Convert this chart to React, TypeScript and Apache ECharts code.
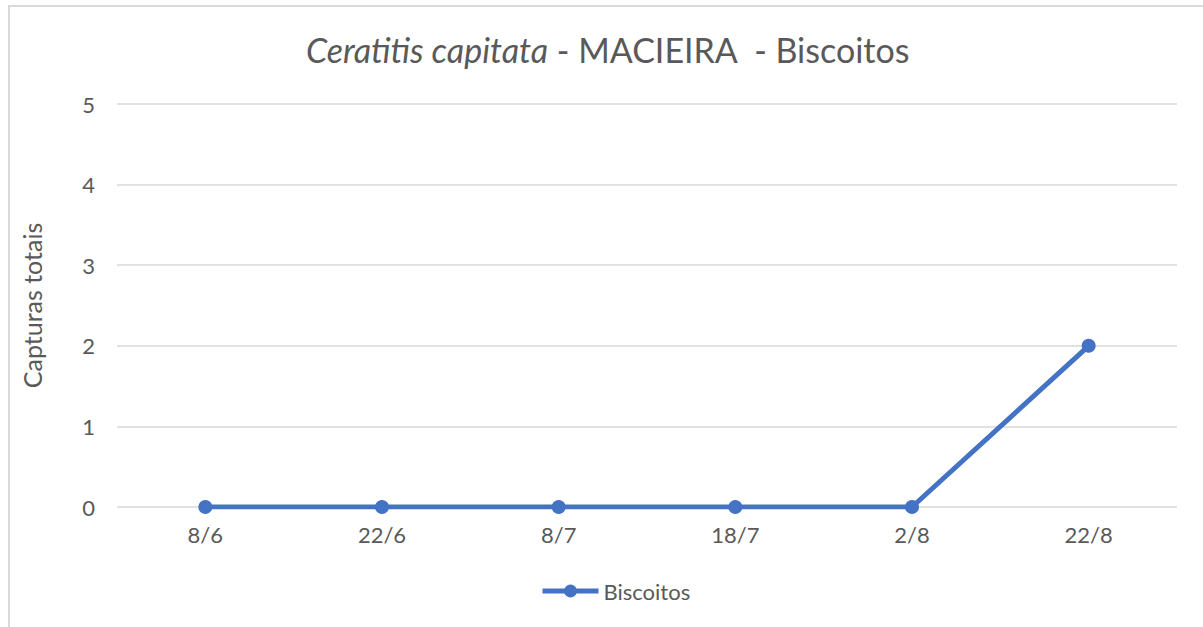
import React, { useEffect, useRef } from "react";
import * as echarts from "echarts";

const categories = ["8/6", "22/6", "8/7", "18/7", "2/8", "22/8"];
const biscoitos = [0, 0, 0, 0, 0, 2];
const seriesName = "Biscoitos";
const yAxisName = "Capturas totais";

export default function App() {
  const ref = useRef<HTMLDivElement>(null);
  useEffect(() => {
    const chart = echarts.init(ref.current!, null, { renderer: "svg" });
    const font = "Lato, Open Sans, sans-serif";
    chart.setOption({
      animation: false,
      backgroundColor: "#ffffff",
      graphic: [
        {
          type: "rect",
          shape: { x: 9, y: 6, width: 1400, height: 800 },
          style: { fill: "none", stroke: "#d9d9d9", lineWidth: 2 },
          silent: true,
        },
      ],
      title: {
        text: "{i|Ceratitis capitata} - MACIEIRA  - Biscoitos",
        left: 301,
        top: 27,
        textStyle: {
          fontFamily: font,
          fontSize: 34,
          fontWeight: "normal",
          color: "#595959",
          rich: {
            i: { fontFamily: font, fontSize: 34, fontStyle: "italic", color: "#595959" },
          },
        },
      },
      grid: { left: 117, right: 26, top: 104, bottom: 120, containLabel: false },
      legend: {
        top: 580,
        left: 540,
        padding: 0,
        itemWidth: 56,
        itemHeight: 16,
        itemGap: 10,
        lineStyle: { width: 5 },
        textStyle: { fontFamily: font, fontSize: 22, color: "#595959" },
        data: [{ name: seriesName }],
      },
      xAxis: {
        type: "category",
        data: categories,
        boundaryGap: true,
        axisLine: { show: false },
        axisTick: { show: false },
        axisLabel: { fontFamily: font, fontSize: 22, color: "#595959", margin: 16 },
      },
      yAxis: {
        type: "value",
        min: 0,
        max: 5,
        interval: 1,
        name: yAxisName,
        nameLocation: "middle",
        nameGap: 73,
        nameTextStyle: { fontFamily: font, fontSize: 25, color: "#595959" },
        axisLine: { show: false },
        axisTick: { show: false },
        axisLabel: { fontFamily: font, fontSize: 22, color: "#595959", margin: 22 },
        splitLine: { lineStyle: { color: "#d9d9d9", width: 1.5 } },
      },
      series: [
        {
          name: seriesName,
          type: "line",
          data: biscoitos,
          symbol: "circle",
          symbolSize: 14,
          lineStyle: { color: "#4472c4", width: 5 },
          itemStyle: { color: "#4472c4" },
        },
      ],
    });
    return () => chart.dispose();
  }, []);
  return (
    <div
      ref={ref}
      style={{ position: "fixed", left: 0, top: 0, width: 1203, height: 627 }}
    />
  );
}
